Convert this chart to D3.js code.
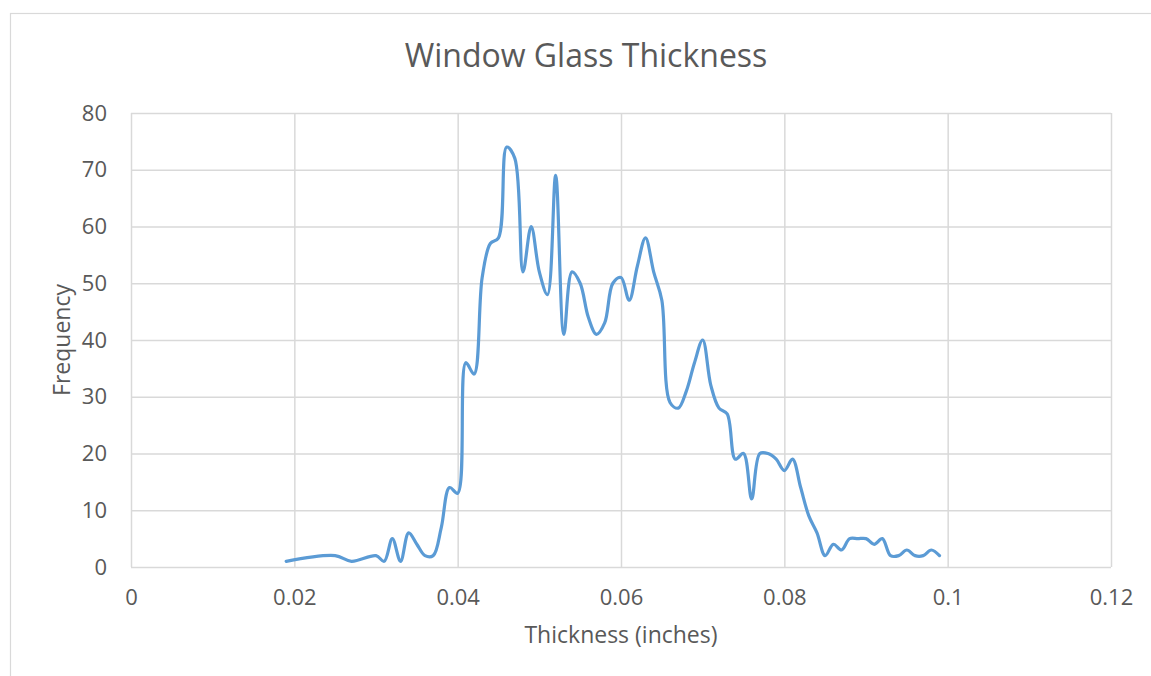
<!DOCTYPE html>
<html><head><meta charset="utf-8">
<script src="https://cdn.jsdelivr.net/npm/d3@7"></script>
<style>body{margin:0;background:#fff}svg{display:block}</style>
</head><body>
<svg id="c" width="1151" height="676"></svg>
<script>
const thickness = [0.019,0.025,0.027,0.030,0.031,0.032,0.033,0.034,0.035,0.036,0.037,0.038,0.039,0.040,
 0.041,0.042,0.043,0.044,0.045,0.046,0.047,0.048,0.049,0.050,0.051,0.052,0.053,0.054,0.055,0.056,0.057,
 0.058,0.059,0.060,0.061,0.062,0.063,0.064,0.065,0.066,0.067,0.068,0.069,0.070,0.071,0.072,0.073,0.074,
 0.075,0.076,0.077,0.078,0.079,0.080,0.081,0.082,0.083,0.084,0.085,0.086,0.087,0.088,0.089,0.090,0.091,
 0.092,0.093,0.094,0.095,0.096,0.097,0.098,0.099];
const frequency = [1,2,1,2,1,5,1,6,4,2,2,7,14,13,
 36,34,51,57,58,74,72,52,60,52,48,69,41,52,50,44,41,
 43,50,51,47,53,58,52,47,29,28,31,36,40,32,28,27,19,
 20,12,20,20,19,17,19,14,9,6,2,4,3,5,5,5,4,
 5,2,2,3,2,2,3,2];
const xTicks = [0,0.02,0.04,0.06,0.08,0.1,0.12];
const xTickLabels = ["0","0.02","0.04","0.06","0.08","0.1","0.12"];
const yTicks = [0,10,20,30,40,50,60,70,80];
const title = "Window Glass Thickness";
const xTitle = "Thickness (inches)";
const yTitle = "Frequency";

const svg = d3.select("#c");
const font = "'Open Sans', 'Liberation Sans', sans-serif";
const textColor = "#595959", gridColor = "#d9d9d9";
const L = 131, R = 1111, T = 113, B = 567;
const x = d3.scaleLinear().domain([0,0.12]).range([L,R]);
const y = d3.scaleLinear().domain([0,80]).range([B,T]);

svg.append("rect").attr("x",10.5).attr("y",13.5).attr("width",1200).attr("height",700)
  .attr("fill","#fff").attr("stroke",gridColor).attr("stroke-width",1.2);

const gx = svg.append("g").attr("transform",`translate(0,${B})`)
  .call(d3.axisBottom(x).tickValues(xTicks).tickFormat((d,i)=>xTickLabels[i]).tickSize(-(B-T)).tickPadding(22));
const gy = svg.append("g").attr("transform",`translate(${L},0)`)
  .call(d3.axisLeft(y).tickValues(yTicks).tickSize(-(R-L)).tickPadding(24));
[gx,gy].forEach(g=>{
  g.select(".domain").remove();
  g.selectAll(".tick line").attr("stroke",gridColor).attr("stroke-width",1.5);
  g.selectAll(".tick text").attr("fill",textColor).style("font-family",font).style("font-size","22px");
});

const line = d3.line().x((d,i)=>x(thickness[i])).y(d=>y(d)).curve(d3.curveCatmullRom.alpha(0.5));
svg.append("path").datum(frequency).attr("d",line).attr("fill","none")
  .attr("stroke","#5b9bd5").attr("stroke-width",3.2).attr("stroke-linejoin","round").attr("stroke-linecap","round");

svg.append("text").attr("x",586).attr("y",67).attr("text-anchor","middle").attr("fill",textColor)
  .style("font-family",font).style("font-size","32px").text(title);
svg.append("text").attr("x",621).attr("y",643).attr("text-anchor","middle").attr("fill",textColor)
  .style("font-family",font).style("font-size","23px").text(xTitle);
svg.append("text").attr("transform",`translate(70,340) rotate(-90)`).attr("text-anchor","middle").attr("fill",textColor)
  .style("font-family",font).style("font-size","23px").text(yTitle);
</script>
</body></html>
